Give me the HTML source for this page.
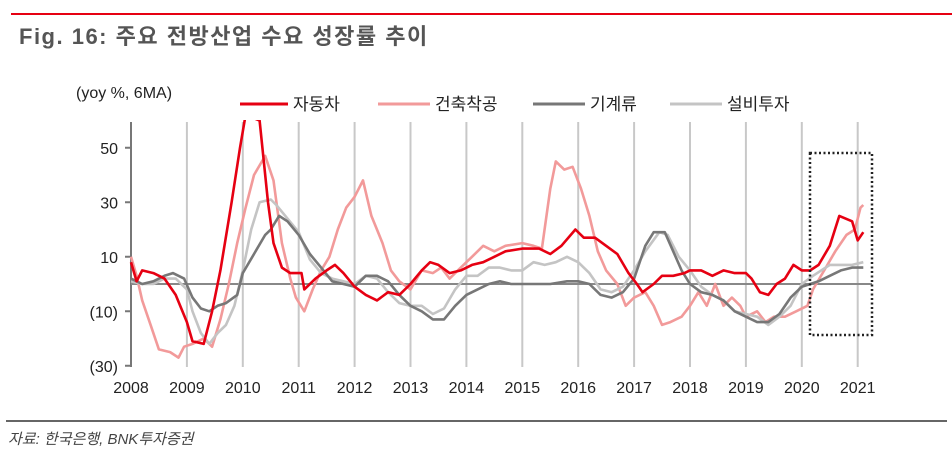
<!DOCTYPE html>
<html><head><meta charset="utf-8"><style>
body{margin:0;background:#fff;width:952px;height:461px;overflow:hidden;font-family:"Liberation Sans","Noto Sans CJK KR",sans-serif}
</style></head><body>
<svg id="s" width="952" height="461" xmlns="http://www.w3.org/2000/svg" font-family="Liberation Sans, Noto Sans CJK KR, sans-serif">
<line x1="11" y1="14" x2="952" y2="14" stroke="#e60012" stroke-width="2"/>
<text x="19" y="44" font-size="22" font-weight="bold" fill="#555" letter-spacing="1.5">Fig. 16: 주요 전방산업 수요 성장률 추이</text>
<text x="76" y="98" font-size="16" fill="#222">(yoy %, 6MA)</text>
<line x1="240" y1="104" x2="288" y2="104" stroke="#e60012" stroke-width="3"/>
<text x="293" y="110" font-size="17" fill="#222">자동차</text>
<line x1="378" y1="104" x2="430" y2="104" stroke="#f29a9a" stroke-width="3"/>
<text x="435" y="110" font-size="17" fill="#222">건축착공</text>
<line x1="533" y1="104" x2="585" y2="104" stroke="#777" stroke-width="3"/>
<text x="590" y="110" font-size="17" fill="#222">기계류</text>
<line x1="670" y1="104" x2="722" y2="104" stroke="#c4c4c4" stroke-width="3"/>
<text x="727" y="110" font-size="17" fill="#222">설비투자</text>
<g id="grid" stroke="#c8c8c8" stroke-width="2"></g>
<line x1="131" y1="122" x2="131" y2="367" stroke="#777" stroke-width="2"/>
<line x1="131" y1="284" x2="872" y2="284" stroke="#888" stroke-width="2"/>
<g id="yt" font-size="16" fill="#222" text-anchor="end"></g>
<g id="xt" font-size="16" fill="#222" text-anchor="middle"></g>
<defs><clipPath id="c"><rect x="120" y="120" width="800" height="260"/></clipPath></defs>
<g id="ser" clip-path="url(#c)" fill="none" stroke-width="2.6" stroke-linejoin="round"></g>
<rect x="810" y="153" width="62" height="182" fill="none" stroke="#222" stroke-width="2.5" stroke-dasharray="2,2.5"/>
<line x1="6" y1="421" x2="947" y2="421" stroke="#666" stroke-width="2"/>
<text x="8" y="444" font-size="15" font-style="italic" fill="#444">자료: 한국은행, BNK투자증권</text>
</svg>
<script>
const X=y=>131+(y-2008)*55.9, Y=v=>284-v*2.725, NS="http://www.w3.org/2000/svg";
function el(p,t,a,txt){const e=document.createElementNS(NS,t);for(const k in a)e.setAttribute(k,a[k]);if(txt)e.textContent=txt;document.getElementById(p).appendChild(e);}
for(let y=2009;y<=2021;y++)el('grid','line',{x1:X(y),y1:122,x2:X(y),y2:367});
[[50,'50'],[30,'30'],[10,'10'],[-10,'(10)'],[-30,'(30)']].forEach(([v,t])=>{el('yt','text',{x:118,y:Y(v)+6},t);el('grid','line',{x1:125,y1:Y(v),x2:131,y2:Y(v),stroke:'#777'});});
for(let y=2008;y<=2021;y++)el('xt','text',{x:X(y),y:393},String(y));
const S={
'#f29a9a':[2008,10,2008.1,3,2008.2,-6,2008.35,-15,2008.5,-24,2008.7,-25,2008.85,-27,2008.95,-23,2009.1,-22,2009.3,-20,2009.45,-23,2009.6,-13,2009.75,0,2009.9,15,2010.05,28,2010.2,40,2010.4,47,2010.55,38,2010.7,15,2010.85,2,2010.95,-5,2011.1,-10,2011.25,-2,2011.4,5,2011.55,10,2011.7,20,2011.85,28,2012,32,2012.15,38,2012.3,25,2012.5,15,2012.65,5,2012.8,1,2013,-2,2013.2,5,2013.4,4,2013.55,6,2013.7,2,2013.9,6,2014.1,10,2014.3,14,2014.5,12,2014.7,14,2015,15,2015.2,14,2015.35,13,2015.5,35,2015.6,45,2015.75,42,2015.9,43,2016.05,35,2016.2,25,2016.35,12,2016.5,5,2016.7,0,2016.85,-8,2017,-5,2017.2,-3,2017.35,-8,2017.5,-15,2017.65,-14,2017.85,-12,2018,-8,2018.15,-3,2018.3,-8,2018.45,0,2018.6,-8,2018.75,-5,2018.9,-8,2019,-12,2019.2,-10,2019.35,-14,2019.5,-12,2019.7,-12,2019.9,-10,2020.1,-8,2020.2,-2,2020.4,5,2020.6,12,2020.8,18,2020.95,20,2021.05,28,2021.1,29],
'#c4c4c4':[2008,1,2008.2,0,2008.4,0,2008.6,2,2008.8,2,2009,-2,2009.1,-10,2009.25,-18,2009.4,-22,2009.55,-18,2009.7,-15,2009.85,-8,2010,5,2010.15,20,2010.3,30,2010.5,31,2010.6,29,2010.8,24,2011,19,2011.2,9,2011.4,4,2011.6,2,2011.8,1,2012,0,2012.2,3,2012.4,2,2012.6,-3,2012.8,-7,2013,-8,2013.2,-8,2013.4,-11,2013.6,-9,2013.8,-2,2014,3,2014.2,3,2014.4,6,2014.6,6,2014.8,5,2015,5,2015.2,8,2015.4,7,2015.6,8,2015.8,10,2016,8,2016.2,4,2016.4,-2,2016.6,-3,2016.8,-1,2017,5,2017.2,12,2017.45,19,2017.6,18,2017.8,10,2018,5,2018.2,-1,2018.4,-4,2018.6,-6,2018.8,-10,2019,-11,2019.2,-12,2019.4,-15,2019.6,-12,2019.8,-8,2020,0,2020.2,3,2020.5,7,2020.7,7,2020.9,7,2021.1,8],
'#777':[2008,2,2008.2,0,2008.4,1,2008.6,3,2008.75,4,2008.95,2,2009.1,-5,2009.25,-9,2009.4,-10,2009.55,-8,2009.7,-7,2009.9,-4,2010,4,2010.2,11,2010.4,18,2010.5,20,2010.65,25,2010.8,23,2011,18,2011.2,11,2011.4,6,2011.6,1,2011.8,0,2012,-1,2012.2,3,2012.4,3,2012.6,1,2012.8,-4,2013,-8,2013.2,-10,2013.4,-13,2013.6,-13,2013.8,-8,2014,-4,2014.2,-2,2014.4,0,2014.6,1,2014.8,0,2015,0,2015.3,0,2015.5,0,2015.8,1,2016,1,2016.2,0,2016.4,-4,2016.6,-5,2016.8,-3,2017,2,2017.2,14,2017.35,19,2017.55,19,2017.7,12,2017.85,5,2018,0,2018.2,-3,2018.4,-4,2018.6,-6,2018.8,-10,2019,-12,2019.2,-14,2019.4,-14,2019.6,-11,2019.8,-5,2020,-1,2020.3,1,2020.5,3,2020.7,5,2020.9,6,2021.1,6],
'#e60012':[2008,8,2008.1,1,2008.2,5,2008.4,4,2008.6,2,2008.8,-4,2009,-14,2009.1,-21,2009.3,-22,2009.45,-10,2009.6,5,2009.8,30,2009.95,50,2010.05,62,2010.3,60,2010.45,30,2010.55,15,2010.7,6,2010.85,4,2011.05,4,2011.1,-2,2011.3,2,2011.5,5,2011.65,7,2011.8,4,2012,-1,2012.2,-4,2012.4,-6,2012.6,-3,2012.8,-4,2013,0,2013.2,5,2013.35,8,2013.5,7,2013.7,4,2013.9,5,2014.1,7,2014.3,8,2014.5,10,2014.7,12,2015,13,2015.3,13,2015.5,11,2015.7,14,2015.95,20,2016.1,17,2016.3,17,2016.5,14,2016.7,11,2016.9,4,2017.05,0,2017.15,-3,2017.35,0,2017.5,3,2017.7,3,2017.9,4,2018,5,2018.2,5,2018.4,3,2018.6,5,2018.8,4,2019,4,2019.1,2,2019.25,-3,2019.4,-4,2019.55,0,2019.7,2,2019.85,7,2020,5,2020.15,5,2020.3,7,2020.5,14,2020.67,25,2020.9,23,2021,16,2021.1,19]};
for(const c in S){const a=S[c];let p=[];for(let i=0;i<a.length;i+=2)p.push(X(a[i]).toFixed(1)+','+Y(a[i+1]).toFixed(1));el('ser','polyline',{points:p.join(' '),stroke:c});}
</script>
</body></html>
